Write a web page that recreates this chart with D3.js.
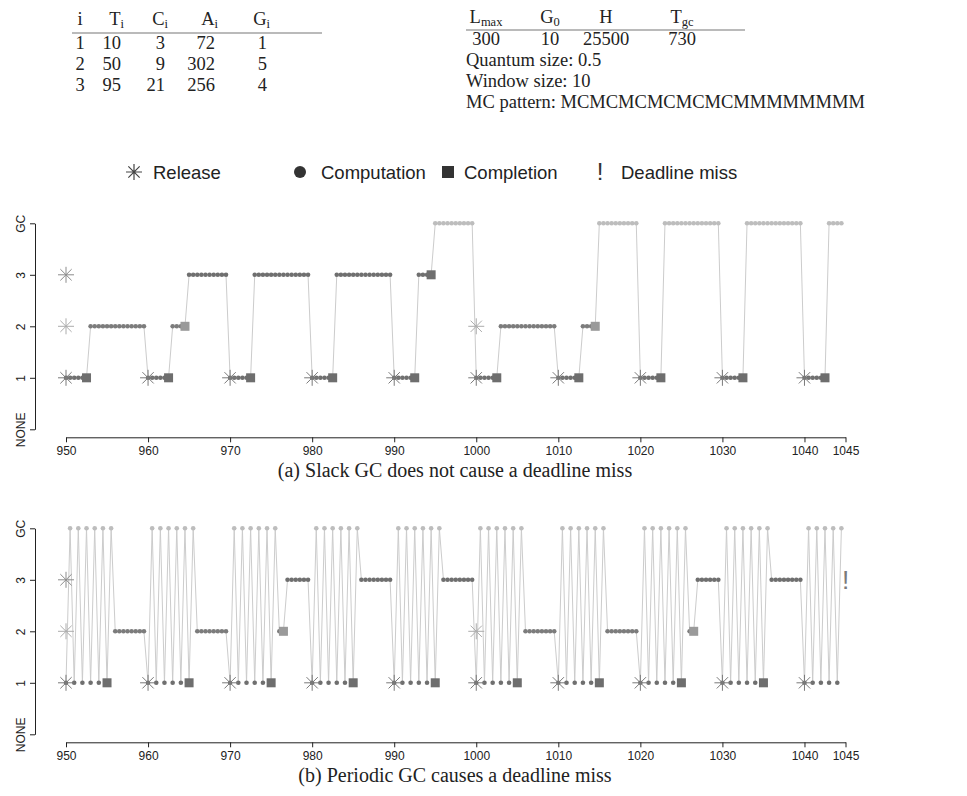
<!DOCTYPE html>
<html>
<head>
<meta charset="utf-8">
<script src="https://cdn.jsdelivr.net/npm/d3@7"></script>
<style>
  body { margin: 0; background: #fff; }
  svg { display: block; }
</style>
</head>
<body>
<svg id="fig" width="967" height="796"></svg>
<script>
// task parameters (left table)
const taskHeader = [['i', ''], ['T', 'i'], ['C', 'i'], ['A', 'i'], ['G', 'i']];
const taskRows = [
    [1, 10, 3, 72, 1],
    [2, 50, 9, 302, 5],
    [3, 95, 21, 256, 4]
];
// GC parameters (right table)
const gcHeader = [['L', 'max'], ['G', '0'], ['H', ''], ['T', 'gc']];
const gcValues = [300, 10, 25500, 730];
const quantumSize = 0.5;
const windowSize = 10;
const mcPattern = 'MCMCMCMCMCMCMMMMMMMM';

const levelNames = ['NONE', '1', '2', '3', 'GC'];
const xTicks = [950, 960, 970, 980, 990, 1000, 1010, 1020, 1030, 1040, 1045];

// who runs in each quantum, one string per window (1,2,3 = task, G = GC)
const slackSchedule = [
    '11111122222222222222',
    '11111122223333333333',
    '11111133333333333333',
    '11111133333333333333',
    '1111113333GGGGGGGGGG',
    '11111122222222222222',
    '1111112222GGGGGGGGGG',
    '111111GGGGGGGGGGGGGG',
    '111111GGGGGGGGGGGGGG',
    '111111GGGG'
];
const periodicSchedule = [
    '1G1G1G1G1G1G22222222',
    '1G1G1G1G1G1G22222222',
    '1G1G1G1G1G1G22333333',
    '1G1G1G1G1G1G33333333',
    '1G1G1G1G1G1G33333333',
    '1G1G1G1G1G1G22222222',
    '1G1G1G1G1G1G22222222',
    '1G1G1G1G1G1G22333333',
    '1G1G1G1G1G1G33333333',
    '1G1G1G1G1G'
];
// job completions [time, task]
const slackDone = [[952.5, 1], [962.5, 1], [964.5, 2], [972.5, 1], [982.5, 1], [992.5, 1], [994.5, 3],
    [1002.5, 1], [1012.5, 1], [1014.5, 2], [1022.5, 1], [1032.5, 1], [1042.5, 1]];
const periodicDone = [[955, 1], [965, 1], [975, 1], [976.5, 2], [985, 1], [995, 1], [1005, 1],
    [1015, 1], [1025, 1], [1026.5, 2], [1035, 1]];
// job releases [time, task]
const releases = [[950, 1], [950, 2], [950, 3], [960, 1], [970, 1], [980, 1], [990, 1],
    [1000, 1], [1000, 2], [1010, 1], [1020, 1], [1030, 1], [1040, 1]];
const slackMiss = [];
const periodicMiss = [[1045, 3]];

const dotColor = {1: '#6f6f6f', 2: '#7c7c7c', 3: '#6f6f6f', 4: '#bdbdbd'};
const boxColor = {1: '#6e6e6e', 2: '#9a9a9a', 3: '#6e6e6e'};
const starColor = {1: '#7a7a7a', 2: '#acacac', 3: '#8c8c8c'};

const svg = d3.select('#fig');
const serif = '"Liberation Serif", "Times New Roman", serif';
const sans = '"Liberation Sans", Arial, sans-serif';
const tableSize = 18.5;

function starPath(h) {
    const d = h / Math.SQRT2;
    return `M${-h},0L${h},0M0,${-h}L0,${h}M${-d},${-d}L${d},${d}M${-d},${d}L${d},${-d}`;
}

function subText(g, x, y, parts, anchor) {
    const t = g.append('text')
        .attr('x', x).attr('y', y)
        .attr('text-anchor', anchor)
        .attr('font-family', serif).attr('font-size', tableSize).attr('fill', '#222');
    t.append('tspan').text(parts[0]);
    if (parts[1]) t.append('tspan').attr('font-size', 12.5).attr('dy', 3).text(parts[1]);
    return t;
}

// ---- left table ----
const tbl = svg.append('g');
const taskX = [80, 121, 165, 215, 267];
const taskAnchor = ['middle', 'end', 'end', 'end', 'end'];
taskHeader.forEach((h, i) => subText(tbl, taskX[i] + (i == 0 ? 0 : 3), 25, h, taskAnchor[i]));
tbl.append('line').attr('x1', 72).attr('x2', 322).attr('y1', 33).attr('y2', 33)
    .attr('stroke', '#777').attr('stroke-width', 1.2);
taskRows.forEach((row, r) => {
    row.forEach((v, i) => {
        tbl.append('text')
            .attr('x', taskX[i]).attr('y', 49 + r * 21)
            .attr('text-anchor', taskAnchor[i])
            .attr('font-family', serif).attr('font-size', tableSize).attr('fill', '#222')
            .text(v);
    });
});

// ---- right table ----
const gcX = [486, 550, 606, 682];
gcHeader.forEach((h, i) => subText(tbl, gcX[i], 23, h, 'middle'));
tbl.append('line').attr('x1', 466).attr('x2', 745).attr('y1', 30).attr('y2', 30)
    .attr('stroke', '#777').attr('stroke-width', 1.2);
gcValues.forEach((v, i) => {
    tbl.append('text').attr('x', gcX[i]).attr('y', 44.5).attr('text-anchor', 'middle')
        .attr('font-family', serif).attr('font-size', tableSize).attr('fill', '#222').text(v);
});
[`Quantum size: ${quantumSize}`, `Window size: ${windowSize}`, `MC pattern: ${mcPattern}`]
    .forEach((s, i) => {
        tbl.append('text').attr('x', 466).attr('y', 66 + i * 21)
            .attr('font-family', serif).attr('font-size', tableSize).attr('fill', '#222').text(s);
    });

// ---- legend ----
const leg = svg.append('g').attr('transform', 'translate(0,172)');
leg.append('path').attr('d', starPath(8)).attr('transform', 'translate(134,0)')
    .attr('stroke', '#444').attr('stroke-width', 1.2).attr('fill', 'none');
leg.append('circle').attr('cx', 300).attr('cy', 0).attr('r', 6).attr('fill', '#333');
leg.append('rect').attr('x', 442).attr('y', -6).attr('width', 12).attr('height', 12).attr('fill', '#333');
leg.append('text').attr('x', 600).attr('y', 8).attr('text-anchor', 'middle')
    .attr('font-family', sans).attr('font-size', 24).attr('fill', '#333').text('!');
[['Release', 153], ['Computation', 321], ['Completion', 464], ['Deadline miss', 621]].forEach(([s, x]) => {
    leg.append('text').attr('x', x).attr('y', 6.5)
        .attr('font-family', sans).attr('font-size', 18.5).attr('fill', '#222').text(s);
});

// ---- panels ----
const x = d3.scaleLinear().domain([950, 1045]).range([66, 845.5]);

function drawPanel(schedule, done, miss, top, caption) {
    const y = d3.scaleLinear().domain([0, 4]).range([top + 206, top]);
    const g = svg.append('g');

    const pts = [];
    schedule.forEach((w, k) => {
        w.split('').forEach((c, j) => {
            pts.push({ t: 950 + k * windowSize + j * quantumSize, lvl: c == 'G' ? 4 : +c });
        });
    });

    // axes
    const yAxis = g.append('g').attr('transform', 'translate(35,0)')
        .call(d3.axisLeft(y).tickValues([0, 1, 2, 3, 4]).tickFormat(i => levelNames[i])
            .tickSize(5).tickSizeOuter(0));
    yAxis.selectAll('text')
        .attr('transform', 'rotate(-90)').attr('x', 0).attr('y', -10).attr('dy', 0)
        .attr('text-anchor', 'middle');
    const xAxis = g.append('g').attr('transform', `translate(0,${top + 214})`)
        .call(d3.axisBottom(x).tickValues(xTicks).tickFormat(d3.format('d'))
            .tickSize(5).tickSizeOuter(0).tickPadding(4));
    [yAxis, xAxis].forEach(a => {
        a.selectAll('text').attr('font-family', sans).attr('font-size', 12).attr('fill', '#222');
        a.selectAll('path, line').attr('stroke', '#222');
    });

    // schedule trace
    g.append('path').datum(pts)
        .attr('d', d3.line().x(d => x(d.t)).y(d => y(d.lvl)))
        .attr('fill', 'none').attr('stroke', '#cccccc').attr('stroke-width', 1);

    g.append('g').selectAll('circle').data(pts).enter().append('circle')
        .attr('cx', d => x(d.t)).attr('cy', d => y(d.lvl)).attr('r', 2.3)
        .attr('fill', d => dotColor[d.lvl]);

    g.append('g').selectAll('rect').data(done).enter().append('rect')
        .attr('x', d => x(d[0]) - 4.5).attr('y', d => y(d[1]) - 4.5)
        .attr('width', 9).attr('height', 9)
        .attr('fill', d => boxColor[d[1]]);

    g.append('g').selectAll('path').data(releases).enter().append('path')
        .attr('d', starPath(8))
        .attr('transform', d => `translate(${x(d[0])},${y(d[1])})`)
        .attr('fill', 'none').attr('stroke', d => starColor[d[1]]).attr('stroke-width', 1);

    g.append('g').selectAll('text').data(miss).enter().append('text')
        .attr('x', d => x(d[0])).attr('y', d => y(d[1]) + 9)
        .attr('text-anchor', 'middle')
        .attr('font-family', sans).attr('font-size', 26).attr('fill', '#7a7a7a')
        .text('!');

    g.append('text').attr('x', 455).attr('y', top + 254)
        .attr('text-anchor', 'middle')
        .attr('font-family', serif).attr('font-size', 20).attr('fill', '#222')
        .text(caption);
}

drawPanel(slackSchedule, slackDone, slackMiss, 223.3, '(a) Slack GC does not cause a deadline miss');
drawPanel(periodicSchedule, periodicDone, periodicMiss, 528.3, '(b) Periodic GC causes a deadline miss');
</script>
</body>
</html>
